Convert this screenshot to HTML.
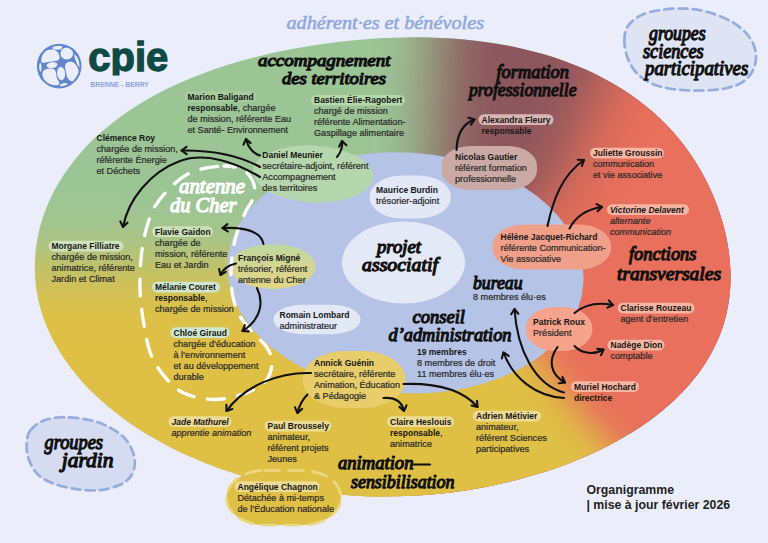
<!DOCTYPE html>
<html lang="fr"><head><meta charset="utf-8"><title>Organigramme CPIE Brenne-Berry</title>
<style>
html,body{margin:0;padding:0;background:#ebeefa;}
body{width:768px;height:543px;overflow:hidden;position:relative;font-family:"Liberation Sans",sans-serif;}
svg{position:absolute;left:0;top:0;display:block}
text{font-family:"Liberation Sans",sans-serif;}
.b{font-size:9.1px;fill:#2a2a2a;stroke:#2a2a2a;stroke-width:.22px}
.n{font-size:8.5px;font-weight:bold;fill:#161616;}
.bi{font-style:italic}
.h{font-family:"Liberation Serif","DejaVu Serif",serif;font-weight:normal;font-style:italic;fill:#111;stroke:#111;stroke-width:1px;stroke-linejoin:round;stroke-linecap:round}
.ar{fill:none;stroke:#111;stroke-width:2.1;stroke-linecap:round;stroke-linejoin:round}
</style></head><body>
<svg width="768" height="543" viewBox="0 0 768 543">
<defs>
<clipPath id="big"><path d="M34.8,268.0 C34.8,263.0 35.0,258.0 35.5,253.0 C36.0,248.0 36.6,243.0 37.5,238.0 C38.4,233.0 39.7,228.1 41.1,223.2 C42.5,218.3 44.2,213.3 46.1,208.5 C48.0,203.7 50.1,198.8 52.5,194.1 C54.9,189.3 57.5,184.7 60.4,180.0 C63.3,175.3 66.5,170.7 69.8,166.2 C73.1,161.7 76.7,157.2 80.5,152.9 C84.3,148.6 88.3,144.2 92.6,140.1 C96.9,135.9 101.4,131.9 106.1,128.0 C110.8,124.1 115.7,120.2 120.8,116.5 C125.9,112.8 131.3,109.2 136.8,105.7 C142.3,102.2 148.0,99.0 153.8,95.8 C159.6,92.6 165.7,89.5 171.8,86.6 C178.0,83.7 184.3,80.9 190.7,78.3 C197.1,75.7 203.6,73.2 210.2,70.8 C216.8,68.4 223.6,66.2 230.4,64.1 C237.2,62.0 244.2,60.0 251.2,58.2 C258.2,56.4 265.2,54.7 272.3,53.1 C279.4,51.5 286.6,50.1 293.8,48.7 C301.0,47.4 308.4,46.1 315.7,45.0 C323.0,43.9 330.4,42.9 337.8,42.0 C345.2,41.1 352.8,40.4 360.3,39.7 C367.8,39.1 375.4,38.5 383.0,38.1 C390.6,37.7 398.2,37.5 405.9,37.4 C413.6,37.3 421.3,37.3 429.0,37.5 C436.7,37.7 444.5,38.1 452.2,38.6 C459.9,39.1 467.7,39.8 475.4,40.7 C483.1,41.6 490.8,42.7 498.4,44.0 C506.0,45.3 513.5,46.7 521.0,48.4 C528.5,50.1 535.9,52.0 543.1,54.1 C550.3,56.2 557.4,58.5 564.3,61.0 C571.2,63.5 578.0,66.2 584.6,69.1 C591.2,72.0 597.6,75.1 603.8,78.4 C610.0,81.7 615.9,85.1 621.6,88.7 C627.3,92.3 632.8,96.1 638.0,100.0 C643.2,103.9 648.2,107.9 652.9,112.0 C657.6,116.1 662.1,120.4 666.3,124.7 C670.5,129.0 674.5,133.5 678.2,138.0 C681.9,142.5 685.4,147.1 688.7,151.7 C692.0,156.3 695.0,161.0 697.9,165.7 C700.8,170.4 703.3,175.1 705.8,179.9 C708.2,184.7 710.5,189.5 712.6,194.3 C714.7,199.1 716.5,204.0 718.2,208.8 C719.9,213.7 721.5,218.5 722.9,223.4 C724.3,228.3 725.5,233.2 726.5,238.2 C727.5,243.1 728.4,248.1 729.0,253.1 C729.6,258.1 730.0,263.0 730.3,268.0 C730.5,273.0 730.7,278.0 730.5,283.0 C730.3,288.0 729.9,293.0 729.3,298.0 C728.6,303.0 727.8,308.0 726.6,313.0 C725.5,318.0 724.1,323.0 722.4,327.9 C720.7,332.8 718.8,337.8 716.6,342.6 C714.4,347.5 712.0,352.3 709.2,357.0 C706.5,361.7 703.4,366.4 700.1,371.0 C696.8,375.6 693.2,380.2 689.4,384.6 C685.6,389.0 681.4,393.3 677.1,397.5 C672.8,401.7 668.2,405.8 663.4,409.8 C658.6,413.8 653.6,417.7 648.4,421.4 C643.2,425.1 637.7,428.7 632.1,432.2 C626.5,435.7 620.7,439.0 614.8,442.2 C608.9,445.4 602.8,448.5 596.6,451.4 C590.4,454.3 584.0,457.1 577.5,459.8 C571.0,462.5 564.4,465.0 557.7,467.4 C551.0,469.8 544.1,472.0 537.2,474.1 C530.3,476.2 523.3,478.2 516.2,480.0 C509.1,481.8 502.0,483.5 494.8,485.0 C487.6,486.5 480.2,488.0 472.9,489.2 C465.5,490.4 458.1,491.5 450.7,492.4 C443.3,493.3 435.8,494.1 428.3,494.7 C420.8,495.3 413.2,495.8 405.7,496.1 C398.1,496.4 390.6,496.5 383.0,496.5 C375.4,496.5 367.8,496.3 360.3,495.9 C352.8,495.5 345.3,495.0 337.8,494.3 C330.3,493.6 322.9,492.7 315.5,491.7 C308.1,490.7 300.8,489.5 293.5,488.2 C286.2,486.9 279.0,485.3 271.9,483.7 C264.8,482.1 257.7,480.3 250.8,478.4 C243.9,476.5 237.0,474.3 230.3,472.1 C223.6,469.9 216.9,467.5 210.4,465.0 C203.9,462.5 197.4,459.9 191.2,457.1 C184.9,454.4 178.9,451.5 172.9,448.5 C166.9,445.5 161.1,442.4 155.4,439.1 C149.7,435.9 144.1,432.5 138.7,429.0 C133.3,425.5 128.1,421.9 123.1,418.2 C118.1,414.5 113.2,410.7 108.5,406.8 C103.8,402.9 99.4,398.9 95.1,394.8 C90.8,390.7 86.7,386.5 82.8,382.2 C78.9,377.9 75.2,373.5 71.8,369.1 C68.4,364.7 65.2,360.2 62.2,355.6 C59.2,351.0 56.5,346.3 54.0,341.6 C51.5,336.9 49.2,332.1 47.2,327.3 C45.2,322.5 43.4,317.6 41.9,312.7 C40.4,307.8 39.0,302.8 38.0,297.9 C37.0,292.9 36.2,288.0 35.7,283.0 C35.2,278.0 34.8,273.0 34.8,268.0Z"/></clipPath>
<filter id="blA" filterUnits="userSpaceOnUse" x="-400" y="-400" width="1600" height="1500"><feGaussianBlur stdDeviation="32"/></filter>
<filter id="blB" filterUnits="userSpaceOnUse" x="-400" y="-400" width="1600" height="1500"><feGaussianBlur stdDeviation="30"/></filter>
<filter id="blC" filterUnits="userSpaceOnUse" x="-400" y="-400" width="1600" height="1500"><feGaussianBlur stdDeviation="33"/></filter>
<filter id="blD" filterUnits="userSpaceOnUse" x="-400" y="-400" width="1600" height="1500"><feGaussianBlur stdDeviation="17"/></filter>

</defs>
<rect width="768" height="543" fill="#ebeefa"/>
<g clip-path="url(#big)">
<rect x="0" y="0" width="768" height="543" fill="#9cc596"/>
<polygon filter="url(#blA)" fill="#8c565d" points="448,-200 1000,-200 1000,800 400,800 427,268"/>
<polygon filter="url(#blB)" fill="#e8705c" points="729,-200 1000,-200 1000,900 380,900 380,300 470,262 551,200"/>
<polygon filter="url(#blC)" fill="#dfc044" points="-300,262 400,266 400,900 -300,900"/>
<polygon filter="url(#blD)" fill="#dfc044" points="330,300 490,300 544,364 578,411 619,455 720,575 720,900 330,900"/>
</g>
<ellipse cx="405.5" cy="272.8" rx="178.2" ry="120.3" transform="rotate(3.6 405.5 272.8)" fill="#b4c3e6"/>
<ellipse cx="403.5" cy="262.5" rx="61.5" ry="41" fill="#e4e9f8" />
<ellipse cx="313" cy="174" rx="60" ry="28.5" fill="#b6d7ad" transform="rotate(3 313 174)" />
<rect x="369.5" y="175.5" width="81.5" height="43.0" rx="32" ry="21.5" fill="#e3e8f7" />
<rect x="273.5" y="304.8" width="87.0" height="29.399999999999977" rx="29" ry="14.7" fill="#e3e8f7" />
<defs><linearGradient id="gFM" x1="0" y1="0" x2="0" y2="1"><stop offset="0" stop-color="#bdd7a0"/><stop offset=".55" stop-color="#d6d690"/><stop offset="1" stop-color="#e0d585"/></linearGradient></defs>
<ellipse cx="272.7" cy="266.5" rx="43" ry="22.5" fill="url(#gFM)" />
<rect x="302.5" y="351" width="103.0" height="57" rx="42" ry="28.5" fill="#e8cd6b" />
<rect x="441.5" y="146" width="95.5" height="44" rx="29" ry="20" fill="#cbaaa5" />
<rect x="492.5" y="224.5" width="118.5" height="45.0" rx="32" ry="21" fill="#f0a089" />
<rect x="525.5" y="307" width="67.0" height="44" rx="29" ry="22" fill="#f5a38c" />
<rect x="226.5" y="470.5" width="114.5" height="54.5" rx="38" ry="27.2" fill="#e0bf45" stroke="#ebd884" stroke-width="2.7" stroke-dasharray="15 9" stroke-linecap="round"/>
<path d="M30.3,430.4 C33.3,426.3 38.8,422.5 44.5,420.3 C50.2,418.1 57.0,417.2 64.7,417.2 C72.5,417.2 83.2,418.4 91.0,420.3 C98.8,422.2 105.5,425.0 111.4,428.4 C117.3,431.8 122.7,435.4 126.6,440.5 C130.5,445.6 133.9,453.1 134.7,458.8 C135.5,464.6 134.1,470.6 131.6,475.0 C129.1,479.4 124.9,482.5 119.5,485.0 C114.1,487.5 106.3,489.5 99.2,490.2 C92.1,490.9 84.3,490.2 76.9,489.2 C69.5,488.2 61.0,486.4 54.6,484.0 C48.2,481.6 42.6,478.9 38.4,475.0 C34.2,471.1 31.3,465.9 29.3,460.8 C27.3,455.7 26.4,449.7 26.6,444.6 C26.8,439.5 27.3,434.4 30.3,430.4Z" fill="#d5dcf2" stroke="#94addf" stroke-width="2.7" stroke-dasharray="9 5.2" stroke-linecap="round"/>
<path d="M624.4,41.1 C624.4,36.0 624.8,31.0 627.5,26.7 C630.2,22.4 635.2,18.2 640.9,15.4 C646.5,12.6 653.9,11.0 661.4,9.9 C668.9,8.8 678.2,8.2 686.1,8.6 C694.0,9.0 701.2,10.1 708.7,12.3 C716.2,14.5 724.9,17.8 731.4,21.6 C737.9,25.4 743.8,30.0 747.8,35.0 C751.8,40.0 754.6,45.9 755.6,51.4 C756.6,56.9 756.0,62.9 754.0,67.9 C752.0,72.9 748.5,77.9 743.7,81.3 C738.9,84.7 732.4,87.0 725.2,88.5 C718.0,90.0 708.7,90.3 700.5,90.5 C692.3,90.7 683.7,90.5 675.8,89.5 C667.9,88.5 659.7,87.0 653.2,84.3 C646.7,81.5 641.0,77.5 636.7,73.0 C632.4,68.5 629.5,62.9 627.5,57.6 C625.5,52.3 624.4,46.2 624.4,41.1Z" fill="#dfe4f5" stroke="#94addf" stroke-width="2.7" stroke-dasharray="9 5.2" stroke-linecap="round"/>
<path d="M224.0,166.0 C233.0,166.0 240.8,167.7 246.0,172.0 C251.2,176.3 255.3,184.8 255.0,192.0 C254.7,199.2 247.3,207.0 244.0,215.0 C240.7,223.0 237.2,230.8 235.0,240.0 C232.8,249.2 231.3,260.5 231.0,270.0 C230.7,279.5 231.4,289.2 233.0,297.0 C234.6,304.8 236.8,310.7 240.5,317.0 C244.2,323.3 250.8,330.2 255.0,335.0 C259.2,339.8 263.2,341.7 266.0,346.0 C268.8,350.3 271.7,355.7 272.0,361.0 C272.3,366.3 270.8,373.3 268.0,378.0 C265.2,382.7 260.2,386.0 255.0,389.0 C249.8,392.0 243.7,394.2 237.0,396.0 C230.3,397.8 222.5,399.5 215.0,399.5 C207.5,399.5 198.3,397.8 192.0,396.0 C185.7,394.2 182.2,393.0 177.0,389.0 C171.8,385.0 165.5,378.2 161.0,372.0 C156.5,365.8 152.8,359.8 150.0,352.0 C147.2,344.2 145.6,334.0 144.0,325.0 C142.4,316.0 141.2,306.3 140.5,298.0 C139.8,289.7 139.8,283.0 140.0,275.0 C140.2,267.0 141.0,257.5 142.0,250.0 C143.0,242.5 144.0,237.0 146.0,230.0 C148.0,223.0 150.0,215.0 154.0,208.0 C158.0,201.0 163.7,194.0 170.0,188.0 C176.3,182.0 183.0,175.7 192.0,172.0 C201.0,168.3 215.0,166.0 224.0,166.0Z" fill="none" stroke="#fff" stroke-width="3.3" stroke-dasharray="17 13.5" stroke-dashoffset="6" stroke-linecap="round"/>
<path class="ar" d="M260,155.5 C254,154 248,148 246,139"/>
<path class="ar" d="M250.6,143.1 L246.0,139.0 L243.5,144.7"/>
<path class="ar" d="M337,157 C341,152 343,147 342,141"/>
<path class="ar" d="M346.4,145.3 L342.0,141.0 L339.2,146.5"/>
<path class="ar" d="M260,167 C240,156 215,150 181.5,150.5"/>
<path class="ar" d="M186.5,146.8 L181.5,150.5 L186.6,154.1"/>
<path class="ar" d="M260,177 C235,162 205,152 180,161 C150,172 128,200 123,227"/>
<path class="ar" d="M120.3,221.4 L123.0,227.0 L127.5,222.7"/>
<path class="ar" d="M263.5,244 C261,232 248,227 222.5,228"/>
<path class="ar" d="M227.4,224.2 L222.5,228.0 L227.7,231.4"/>
<path class="ar" d="M236,263.5 C229,265 223,269 220.5,275"/>
<path class="ar" d="M219.1,269.0 L220.5,275.0 L225.8,271.8"/>
<path class="ar" d="M257,288 C263,300 263,318 242.5,331"/>
<path class="ar" d="M244.8,325.2 L242.5,331.0 L248.7,331.4"/>
<path class="ar" d="M311,373 C280,372 245,385 226.5,411"/>
<path class="ar" d="M226.4,404.8 L226.5,411.0 L232.4,409.0"/>
<path class="ar" d="M307.5,394.5 C302,400 299,406 297.5,413"/>
<path class="ar" d="M295.0,407.3 L297.5,413.0 L302.1,408.9"/>
<path class="ar" d="M383.5,398 C396,397 402,402 404,411"/>
<path class="ar" d="M399.4,406.9 L404.0,411.0 L406.5,405.3"/>
<path class="ar" d="M403.5,384 C435,383 462,389 477.5,407"/>
<path class="ar" d="M471.5,405.6 L477.5,407.0 L477.0,400.8"/>
<path class="ar" d="M456.5,150 C457,135 462,124 474.5,119.5"/>
<path class="ar" d="M471.0,124.6 L474.5,119.5 L468.5,117.8"/>
<path class="ar" d="M547.5,226 C553,200 562,175 584,160"/>
<path class="ar" d="M581.9,165.8 L584.0,160.0 L577.8,159.8"/>
<path class="ar" d="M569.5,228.5 C576,216 588,209 602,207"/>
<path class="ar" d="M597.5,211.3 L602.0,207.0 L596.5,204.1"/>
<path class="ar" d="M574.5,313 C584,305 598,302 613,305"/>
<path class="ar" d="M607.4,307.6 L613.0,305.0 L608.8,300.4"/>
<path class="ar" d="M574.5,346 C582,354 594,355 603.5,349.5"/>
<path class="ar" d="M601.0,355.2 L603.5,349.5 L597.3,348.9"/>
<path class="ar" d="M557.5,347 C548,360 550,374 565,382.5"/>
<path class="ar" d="M558.8,383.2 L565.0,382.5 L562.4,376.9"/>
<path class="ar" d="M564,392.5 C535,385 517,350 514.5,309"/>
<path class="ar" d="M518.4,313.8 L514.5,309.0 L511.2,314.2"/>
<path class="ar" d="M564,398 C535,396 513,378 503.5,352.5"/>
<path class="ar" d="M508.7,355.9 L503.5,352.5 L501.8,358.5"/>
<rect x="184.5" y="91.3" width="72" height="10.6" rx="5.3" fill="#a6cd9f"/>
<text x="187.5" y="99.5" xml:space="preserve"><tspan class="n">Marion Baligand</tspan></text>
<text x="187.5" y="110.5" xml:space="preserve"><tspan class="n">responsable</tspan><tspan class="b">, chargée</tspan></text>
<text x="187.5" y="121.5" xml:space="preserve"><tspan class="b">de mission, référente Eau</tspan></text>
<text x="187.5" y="132.5" xml:space="preserve"><tspan class="b">et Santé- Environnement</tspan></text>
<rect x="311" y="95.0" width="94" height="10.6" rx="5.3" fill="#b5d8ad"/>
<text x="314" y="103.2" xml:space="preserve"><tspan class="n">Bastien Élie-Ragobert</tspan></text>
<text x="314" y="114.2" xml:space="preserve"><tspan class="b">chargé de mission</tspan></text>
<text x="314" y="125.2" xml:space="preserve"><tspan class="b">référente Alimentation-</tspan></text>
<text x="314" y="136.2" xml:space="preserve"><tspan class="b">Gaspillage alimentaire</tspan></text>
<text x="96.5" y="140.5" xml:space="preserve"><tspan class="n">Clémence Roy</tspan></text>
<text x="96.5" y="151.5" xml:space="preserve"><tspan class="b">chargée de mission,</tspan></text>
<text x="96.5" y="162.5" xml:space="preserve"><tspan class="b">référente Énergie</tspan></text>
<text x="96.5" y="173.5" xml:space="preserve"><tspan class="b">et Déchets</tspan></text>
<text x="262.3" y="158.2" xml:space="preserve"><tspan class="n">Daniel Meunier</tspan></text>
<text x="262.3" y="169.2" xml:space="preserve"><tspan class="b">secrétaire-adjoint, référent</tspan></text>
<text x="262.3" y="180.2" xml:space="preserve"><tspan class="b">Accompagnement</tspan></text>
<text x="262.3" y="191.2" xml:space="preserve"><tspan class="b">des territoires</tspan></text>
<rect x="48.5" y="240.8" width="75" height="10.6" rx="5.3" fill="#cfe3c0"/>
<text x="51.5" y="249.0" xml:space="preserve"><tspan class="n">Morgane Filliatre</tspan></text>
<text x="51.5" y="260.0" xml:space="preserve"><tspan class="b">chargée de mission,</tspan></text>
<text x="51.5" y="271.0" xml:space="preserve"><tspan class="b">animatrice, référente</tspan></text>
<text x="51.5" y="282.0" xml:space="preserve"><tspan class="b">Jardin et Climat</tspan></text>
<rect x="152" y="226.3" width="61" height="10.6" rx="5.3" fill="#c9e0b8"/>
<text x="155" y="234.5" xml:space="preserve"><tspan class="n">Flavie Gaidon</tspan></text>
<text x="155" y="245.5" xml:space="preserve"><tspan class="b">chargée de</tspan></text>
<text x="155" y="256.5" xml:space="preserve"><tspan class="b">mission, référente</tspan></text>
<text x="155" y="267.5" xml:space="preserve"><tspan class="b">Eau et Jardin</tspan></text>
<text x="238" y="261.0" xml:space="preserve"><tspan class="n">François Migné</tspan></text>
<text x="238" y="272.0" xml:space="preserve"><tspan class="b">trésorier, référent</tspan></text>
<text x="238" y="283.0" xml:space="preserve"><tspan class="b">antenne du Cher</tspan></text>
<rect x="152" y="281.8" width="68" height="10.6" rx="5.3" fill="#cfe6cf"/>
<text x="155" y="290.0" xml:space="preserve"><tspan class="n">Mélanie Couret</tspan></text>
<text x="155" y="301.0" xml:space="preserve"><tspan class="n">responsable</tspan><tspan class="b">,</tspan></text>
<text x="155" y="312.0" xml:space="preserve"><tspan class="b">chargée de mission</tspan></text>
<rect x="170.5" y="327.3" width="59" height="10.6" rx="5.3" fill="#cfe6cf"/>
<text x="173.5" y="335.5" xml:space="preserve"><tspan class="n">Chloé Giraud</tspan></text>
<text x="173.5" y="346.5" xml:space="preserve"><tspan class="b">chargée d’éducation</tspan></text>
<text x="173.5" y="357.5" xml:space="preserve"><tspan class="b">à l’environnement</tspan></text>
<text x="173.5" y="368.5" xml:space="preserve"><tspan class="b">et au développement</tspan></text>
<text x="173.5" y="379.5" xml:space="preserve"><tspan class="b">durable</tspan></text>
<text x="279.5" y="318.0" xml:space="preserve"><tspan class="n">Romain Lombard</tspan></text>
<text x="279.5" y="329.0" xml:space="preserve"><tspan class="b">administrateur</tspan></text>
<text x="376" y="192.5" xml:space="preserve"><tspan class="n">Maurice Burdin</tspan></text>
<text x="376" y="203.5" xml:space="preserve"><tspan class="b">trésorier-adjoint</tspan></text>
<text x="314" y="365.5" xml:space="preserve"><tspan class="n">Annick Guénin</tspan></text>
<text x="314" y="376.5" xml:space="preserve"><tspan class="b">secrétaire, référente</tspan></text>
<text x="314" y="387.5" xml:space="preserve"><tspan class="b">Animation, Éducation</tspan></text>
<text x="314" y="398.5" xml:space="preserve"><tspan class="b">&amp; Pédagogie</tspan></text>
<rect x="168.5" y="416.3" width="63" height="10.6" rx="5.3" fill="#ecdb94"/>
<text x="171.5" y="424.5" xml:space="preserve"><tspan class="n bi">Jade Mathurel</tspan></text>
<text x="171.5" y="435.5" xml:space="preserve"><tspan class="b bi">apprentie animation</tspan></text>
<rect x="264.5" y="420.8" width="67" height="10.6" rx="5.3" fill="#ecdb94"/>
<text x="267.5" y="429.0" xml:space="preserve"><tspan class="n">Paul Broussely</tspan></text>
<text x="267.5" y="440.0" xml:space="preserve"><tspan class="b">animateur,</tspan></text>
<text x="267.5" y="451.0" xml:space="preserve"><tspan class="b">référent projets</tspan></text>
<text x="267.5" y="462.0" xml:space="preserve"><tspan class="b">Jeunes</tspan></text>
<rect x="234.5" y="481.3" width="85" height="10.6" rx="5.3" fill="#ecdb94"/>
<text x="237.5" y="489.5" xml:space="preserve"><tspan class="n">Angélique Chagnon</tspan></text>
<text x="237.5" y="500.5" xml:space="preserve"><tspan class="b">Détachée à mi-temps</tspan></text>
<text x="237.5" y="511.5" xml:space="preserve"><tspan class="b">de l’Éducation nationale</tspan></text>
<rect x="387" y="416.3" width="67" height="10.6" rx="5.3" fill="#ecdb94"/>
<text x="390" y="424.5" xml:space="preserve"><tspan class="n">Claire Heslouis</tspan></text>
<text x="390" y="435.5" xml:space="preserve"><tspan class="n">responsable</tspan><tspan class="b">,</tspan></text>
<text x="390" y="446.5" xml:space="preserve"><tspan class="b">animatrice</tspan></text>
<rect x="473" y="410.8" width="68" height="10.6" rx="5.3" fill="#ecdb94"/>
<text x="476" y="419.0" xml:space="preserve"><tspan class="n">Adrien Métivier</tspan></text>
<text x="476" y="430.0" xml:space="preserve"><tspan class="b">animateur,</tspan></text>
<text x="476" y="441.0" xml:space="preserve"><tspan class="b">référent Sciences</tspan></text>
<text x="476" y="452.0" xml:space="preserve"><tspan class="b">participatives</tspan></text>
<rect x="478.5" y="114.3" width="75" height="10.6" rx="5.3" fill="#d9b6b5"/>
<text x="481.5" y="122.5" xml:space="preserve"><tspan class="n">Alexandra Fleury</tspan></text>
<text x="481.5" y="133.5" xml:space="preserve"><tspan class="n">responsable</tspan></text>
<text x="455" y="160.0" xml:space="preserve"><tspan class="n">Nicolas Gautier</tspan></text>
<text x="455" y="171.0" xml:space="preserve"><tspan class="b">référent formation</tspan></text>
<text x="455" y="182.0" xml:space="preserve"><tspan class="b">professionnelle</tspan></text>
<rect x="590" y="147.8" width="74" height="10.6" rx="5.3" fill="#f6b5a2"/>
<text x="593" y="156.0" xml:space="preserve"><tspan class="n">Juliette Groussin</tspan></text>
<text x="593" y="167.0" xml:space="preserve"><tspan class="b">communication</tspan></text>
<text x="593" y="178.0" xml:space="preserve"><tspan class="b">et vie associative</tspan></text>
<rect x="607" y="204.3" width="82" height="10.6" rx="5.3" fill="#f6b5a2"/>
<text x="610" y="212.5" xml:space="preserve"><tspan class="n bi">Victorine Delavent</tspan></text>
<text x="610" y="223.5" xml:space="preserve"><tspan class="b bi">alternante</tspan></text>
<text x="610" y="234.5" xml:space="preserve"><tspan class="b bi">communication</tspan></text>
<text x="500.5" y="239.5" xml:space="preserve"><tspan class="n">Hélène Jacquet-Richard</tspan></text>
<text x="500.5" y="250.5" xml:space="preserve"><tspan class="b">référente Communication-</tspan></text>
<text x="500.5" y="261.5" xml:space="preserve"><tspan class="b">Vie associative</tspan></text>
<text x="533" y="325.0" xml:space="preserve"><tspan class="n">Patrick Roux</tspan></text>
<text x="533" y="336.0" xml:space="preserve"><tspan class="b">Président</tspan></text>
<rect x="617.5" y="302.8" width="77" height="10.6" rx="5.3" fill="#f6b5a2"/>
<text x="620.5" y="311.0" xml:space="preserve"><tspan class="n">Clarisse Rouzeau</tspan></text>
<text x="620.5" y="322.0" xml:space="preserve"><tspan class="b">agent d’entretien</tspan></text>
<rect x="607.5" y="339.8" width="57" height="10.6" rx="5.3" fill="#f6b5a2"/>
<text x="610.5" y="348.0" xml:space="preserve"><tspan class="n">Nadège Dion</tspan></text>
<text x="610.5" y="359.0" xml:space="preserve"><tspan class="b">comptable</tspan></text>
<rect x="571" y="381.3" width="68" height="10.6" rx="5.3" fill="#f6b5a2"/>
<text x="574" y="389.5" xml:space="preserve"><tspan class="n">Muriel Hochard</tspan></text>
<text x="574" y="400.5" xml:space="preserve"><tspan class="n">directrice</tspan></text>
<text class="b" x="473" y="299.5">8 membres élu·es</text>
<text class="n" x="417" y="355">19 membres</text>
<text class="b" x="417" y="366.2">8 membres de droit</text>
<text class="b" x="417" y="377">11 membres élu·es</text>
<text x="586.5" y="493.5" style="font-size:12.3px;font-weight:bold;fill:#222">Organigramme</text>
<text x="586.5" y="509" style="font-size:12.3px;font-weight:bold;fill:#222">| mise à jour février 2026</text>
<text class="h" x="286.5" y="29" textLength="197.5" lengthAdjust="spacingAndGlyphs" style="font-size:19px;fill:#8fa8dc;stroke:#8fa8dc;stroke-width:0.55px">adhérent·es et bénévoles</text>
<text class="h" x="258" y="66.4" textLength="132.5" lengthAdjust="spacingAndGlyphs" style="font-size:17.5px;fill:#111;stroke:#111;stroke-width:1.25px">accompagnement</text>
<text class="h" x="282" y="84" textLength="104" lengthAdjust="spacingAndGlyphs" style="font-size:17.5px;fill:#111;stroke:#111;stroke-width:1.25px">des territoires</text>
<text class="h" x="496.5" y="77.5" textLength="72.5" lengthAdjust="spacingAndGlyphs" style="font-size:19px;fill:#111;stroke:#111;stroke-width:1.25px">formation</text>
<text class="h" x="469" y="96" textLength="107.5" lengthAdjust="spacingAndGlyphs" style="font-size:19px;fill:#111;stroke:#111;stroke-width:1.25px">professionnelle</text>
<text class="h" x="649" y="40.3" textLength="56.7" lengthAdjust="spacingAndGlyphs" style="font-size:20px;fill:#111;stroke:#111;stroke-width:1.25px">groupes</text>
<text class="h" x="643" y="58" textLength="60.6" lengthAdjust="spacingAndGlyphs" style="font-size:20px;fill:#111;stroke:#111;stroke-width:1.25px">sciences</text>
<text class="h" x="645" y="75.2" textLength="103.2" lengthAdjust="spacingAndGlyphs" style="font-size:20px;fill:#111;stroke:#111;stroke-width:1.25px">participatives</text>
<text class="h" x="629" y="260" textLength="67.5" lengthAdjust="spacingAndGlyphs" style="font-size:19px;fill:#111;stroke:#111;stroke-width:1.25px">fonctions</text>
<text class="h" x="617" y="280" textLength="104" lengthAdjust="spacingAndGlyphs" style="font-size:19px;fill:#111;stroke:#111;stroke-width:1.25px">transversales</text>
<text class="h" x="179" y="193" textLength="66" lengthAdjust="spacingAndGlyphs" style="font-size:21px;fill:#fff;stroke:#fff;stroke-width:1.25px">antenne</text>
<text class="h" x="170" y="211.5" textLength="66.5" lengthAdjust="spacingAndGlyphs" style="font-size:21px;fill:#fff;stroke:#fff;stroke-width:1.25px">du Cher</text>
<text class="h" x="377" y="253.3" textLength="44" lengthAdjust="spacingAndGlyphs" style="font-size:19px;fill:#111;stroke:#111;stroke-width:1.25px">projet</text>
<text class="h" x="362" y="271" textLength="76" lengthAdjust="spacingAndGlyphs" style="font-size:19px;fill:#111;stroke:#111;stroke-width:1.25px">associatif</text>
<text class="h" x="473" y="289.3" textLength="49.5" lengthAdjust="spacingAndGlyphs" style="font-size:19px;fill:#111;stroke:#111;stroke-width:1.25px">bureau</text>
<text class="h" x="412.5" y="322.5" textLength="52.5" lengthAdjust="spacingAndGlyphs" style="font-size:19px;fill:#111;stroke:#111;stroke-width:1.25px">conseil</text>
<text class="h" x="388.5" y="340.5" textLength="123" lengthAdjust="spacingAndGlyphs" style="font-size:19px;fill:#111;stroke:#111;stroke-width:1.25px">d’administration</text>
<text class="h" x="338" y="468.5" textLength="92" lengthAdjust="spacingAndGlyphs" style="font-size:19px;fill:#111;stroke:#111;stroke-width:1.25px">animation—</text>
<text class="h" x="351" y="487.5" textLength="103.5" lengthAdjust="spacingAndGlyphs" style="font-size:19px;fill:#111;stroke:#111;stroke-width:1.25px">sensibilisation</text>
<text class="h" x="44.5" y="449.3" textLength="58.5" lengthAdjust="spacingAndGlyphs" style="font-size:20px;fill:#111;stroke:#111;stroke-width:1.25px">groupes</text>
<text class="h" x="61.7" y="466.7" textLength="51.7" lengthAdjust="spacingAndGlyphs" style="font-size:20px;fill:#111;stroke:#111;stroke-width:1.25px">jardin</text>
<defs><clipPath id="lg"><circle cx="59.2" cy="66.1" r="20.3"/></clipPath></defs>
<circle cx="59.2" cy="66.1" r="22.3" fill="#6186cb"/>
<g clip-path="url(#lg)" fill="#ebeefa">
<ellipse cx="57.28" cy="47.47" rx="4.98" ry="2.20" transform="rotate(-3 57.28 47.47)"/>
<ellipse cx="66.76" cy="53.41" rx="6.32" ry="6.03" transform="rotate(0 66.76 53.41)"/>
<path d="M41.28,60.31 C41.34,58.90 41.82,56.03 42.81,54.37 C43.80,52.71 45.53,51.14 47.22,50.34 C48.91,49.55 51.24,49.29 52.97,49.58 C54.69,49.87 56.48,50.92 57.56,52.07 C58.65,53.22 59.32,55.17 59.48,56.48 C59.64,57.78 59.57,59.14 58.52,59.92 C57.47,60.71 55.17,60.80 53.16,61.17 C51.15,61.54 48.24,61.86 46.45,62.13 C44.66,62.40 43.29,63.10 42.43,62.80 C41.57,62.49 41.22,61.71 41.28,60.31Z"/>
<ellipse cx="52.01" cy="65.10" rx="5.46" ry="2.97" transform="rotate(-8 52.01 65.10)"/>
<ellipse cx="40.32" cy="67.30" rx="1.15" ry="4.41" transform="rotate(0 40.32 67.30)"/>
<path d="M42.43,72.57 C42.75,71.02 44.11,70.17 45.49,69.50 C46.88,68.83 49.25,68.51 50.76,68.54 C52.28,68.58 53.68,68.86 54.59,69.69 C55.50,70.52 55.82,72.09 56.22,73.52 C56.62,74.96 56.51,76.88 56.99,78.31 C57.47,79.75 58.81,81.06 59.10,82.15 C59.38,83.23 59.62,84.32 58.71,84.83 C57.80,85.34 55.52,85.47 53.64,85.21 C51.75,84.96 49.09,84.36 47.41,83.30 C45.73,82.23 44.41,80.58 43.58,78.79 C42.75,77.01 42.11,74.12 42.43,72.57Z"/>
<ellipse cx="61.11" cy="73.52" rx="4.02" ry="6.80" transform="rotate(-5 61.11 73.52)"/>
<path d="M65.61,64.14 C66.33,63.12 68.00,62.03 69.44,61.84 C70.88,61.65 72.87,62.00 74.23,62.99 C75.59,63.98 76.82,66.18 77.58,67.78 C78.35,69.37 78.83,70.89 78.83,72.57 C78.83,74.24 78.35,76.43 77.58,77.84 C76.82,79.24 75.43,80.52 74.23,81.00 C73.03,81.48 71.52,81.24 70.40,80.71 C69.28,80.18 68.24,79.19 67.52,77.84 C66.81,76.48 66.49,74.21 66.09,72.57 C65.69,70.92 65.21,69.37 65.13,67.97 C65.05,66.56 64.89,65.16 65.61,64.14Z"/>
<path d="M74.23,54.56 C74.42,53.89 76.00,55.36 76.82,56.48 C77.63,57.59 78.54,59.41 79.11,61.26 C79.69,63.12 80.44,66.85 80.26,67.59 C80.09,68.32 78.83,66.85 78.06,65.67 C77.30,64.49 76.31,62.35 75.67,60.50 C75.03,58.65 74.04,55.23 74.23,54.56Z"/>
<ellipse cx="63.69" cy="85.02" rx="3.83" ry="1.72" transform="rotate(-15 63.69 85.02)"/>
</g>
<defs><clipPath id="cpc"><rect x="80" y="30" width="100" height="45.6"/></clipPath></defs>
<g clip-path="url(#cpc)"><text x="88.3" y="70.9" textLength="80" lengthAdjust="spacingAndGlyphs" style="font-size:40.5px;font-weight:bold;fill:#0f4a45;stroke:#0f4a45;stroke-width:1.3px">cpie</text></g>
<text x="90.3" y="86.7" textLength="58.6" lengthAdjust="spacingAndGlyphs" style="font-size:7.3px;font-weight:bold;fill:#8aa3db">BRENNE - BERRY</text>
</svg>
</body></html>
